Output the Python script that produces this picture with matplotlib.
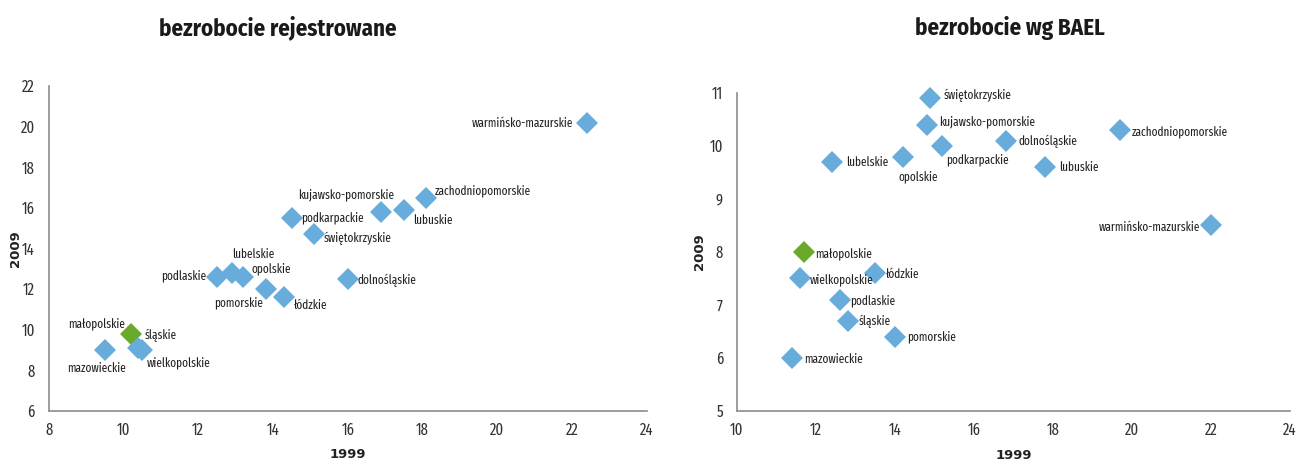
import matplotlib
matplotlib.use("Agg")
import matplotlib.pyplot as plt

plt.rcParams['font.family'] = ['Fira Sans Extra Condensed', 'DejaVu Sans']

# Regional unemployment rates (%), 1999 vs 2009
regions = ['warmińsko-mazurskie', 'zachodniopomorskie', 'lubuskie', 'kujawsko-pomorskie',
           'podkarpackie', 'świętokrzyskie', 'dolnośląskie', 'lubelskie', 'opolskie',
           'podlaskie', 'pomorskie', 'łódzkie', 'małopolskie', 'śląskie',
           'wielkopolskie', 'mazowieckie']

# registered unemployment
reg_1999 = [22.4, 18.1, 17.5, 16.9, 14.5, 15.1, 16.0, 12.9, 13.2, 12.5, 13.8, 14.3, 10.2, 10.4, 10.5, 9.5]
reg_2009 = [20.2, 16.5, 15.9, 15.8, 15.5, 14.7, 12.5, 12.8, 12.6, 12.6, 12.0, 11.6, 9.8, 9.1, 9.0, 9.0]

# LFS (BAEL) unemployment
bael_1999 = [22.0, 19.7, 17.8, 14.8, 15.2, 14.9, 16.8, 12.4, 14.2, 12.6, 14.0, 13.5, 11.7, 12.8, 11.6, 11.4]
bael_2009 = [8.5, 10.3, 9.6, 10.4, 10.0, 10.9, 10.1, 9.7, 9.8, 7.1, 6.4, 7.6, 8.0, 6.7, 7.5, 6.0]

highlight = 'małopolskie'

# label offsets in pixels (dx, dy, horizontal alignment)
left_offsets = {
    'warmińsko-mazurskie': (-14, -1, 'right'),
    'zachodniopomorskie': (8, 7, 'left'),
    'lubuskie': (9, -10, 'left'),
    'kujawsko-pomorskie': (13, 17, 'right'),
    'podkarpackie': (9, 0, 'left'),
    'świętokrzyskie': (10, -4, 'left'),
    'dolnośląskie': (10, -1, 'left'),
    'lubelskie': (0, 18, 'left'),
    'opolskie': (8, 8, 'left'),
    'podlaskie': (-11, 1, 'right'),
    'pomorskie': (-3, -14, 'right'),
    'łódzkie': (10, -8, 'left'),
    'małopolskie': (-6, 10, 'right'),
    'śląskie': (6, 13, 'left'),
    'wielkopolskie': (5, -13, 'left'),
    'mazowieckie': (-8, -18, 'center'),
}
right_offsets = {
    'warmińsko-mazurskie': (-11, -2, 'right'),
    'zachodniopomorskie': (12, -2, 'left'),
    'lubuskie': (14, 0, 'left'),
    'kujawsko-pomorskie': (13, 3, 'left'),
    'podkarpackie': (4, -14, 'left'),
    'świętokrzyskie': (13, 3, 'left'),
    'dolnośląskie': (13, -1, 'left'),
    'lubelskie': (14, -1, 'left'),
    'opolskie': (-4, -20, 'left'),
    'podlaskie': (11, -1, 'left'),
    'pomorskie': (12, 0, 'left'),
    'łódzkie': (11, -1, 'left'),
    'małopolskie': (11, -2, 'left'),
    'śląskie': (11, 0, 'left'),
    'wielkopolskie': (10, -1, 'left'),
    'mazowieckie': (12, -1, 'left'),
}

BLUE = '#68acdc'
GREEN = '#6aaa2a'
SPINE = '#8c8c8c'
TEXT = '#222222'
AXIS_FONT = ['DejaVu Sans']

fig = plt.figure(figsize=(12.99, 4.61), dpi=100)
ax1 = fig.add_axes([0.0375, 0.1085, 0.4605, 0.705])
ax2 = fig.add_axes([0.5673, 0.1085, 0.4257, 0.690])


def draw(ax, xs, ys, offsets, xlim, ylim, xticks, yticks, xlab_y, ylab_x):
    for name, x, y in zip(regions, xs, ys):
        color = GREEN if name == highlight else BLUE
        ax.plot(x, y, marker='D', markersize=11, color=color, markeredgewidth=0,
                linestyle='none', zorder=3, clip_on=False)
        dx, dy, ha = offsets[name]
        ax.annotate(name, (x, y), xytext=(dx, dy), textcoords='offset pixels',
                    ha=ha, va='center', fontsize=8.8, color=TEXT)
    ax.set_xlim(*xlim)
    ax.set_ylim(*ylim)
    ax.set_xticks(xticks)
    ax.set_yticks(yticks)
    ax.tick_params(length=0, labelsize=11.5, colors='#333333')
    ax.tick_params(axis='x', pad=8)
    ax.tick_params(axis='y', pad=10)
    for s in ('top', 'right'):
        ax.spines[s].set_visible(False)
    for s in ('left', 'bottom'):
        ax.spines[s].set_color(SPINE)
        ax.spines[s].set_linewidth(1.2)
    ax.set_xlabel('1999', fontsize=9.5, fontweight='bold', color=TEXT, family=AXIS_FONT)
    ax.set_ylabel('2009', fontsize=9.5, fontweight='bold', color=TEXT, family=AXIS_FONT)
    ax.xaxis.set_label_coords(0.5, xlab_y)
    ax.yaxis.set_label_coords(ylab_x, 0.5)


draw(ax1, reg_1999, reg_2009, left_offsets,
     (8, 24), (6, 22), range(8, 25, 2), range(6, 23, 2), -0.115, -0.045)
draw(ax2, bael_1999, bael_2009, right_offsets,
     (10, 24), (5, 11), range(10, 25, 2), range(5, 12), -0.118, -0.056)

TITLE_FONT = ['Fira Sans Condensed', 'DejaVu Sans']
fig.text(278 / 1299, 1 - 28 / 461, 'bezrobocie rejestrowane', ha='center', va='center',
         fontsize=16.5, fontweight='bold', color='#1a1a1a', family=TITLE_FONT)
fig.text(1010 / 1299, 1 - 28 / 461, 'bezrobocie wg BAEL', ha='center', va='center',
         fontsize=16.5, fontweight='bold', color='#1a1a1a', family=TITLE_FONT)

fig.savefig('out.png', dpi=100, facecolor='white')
